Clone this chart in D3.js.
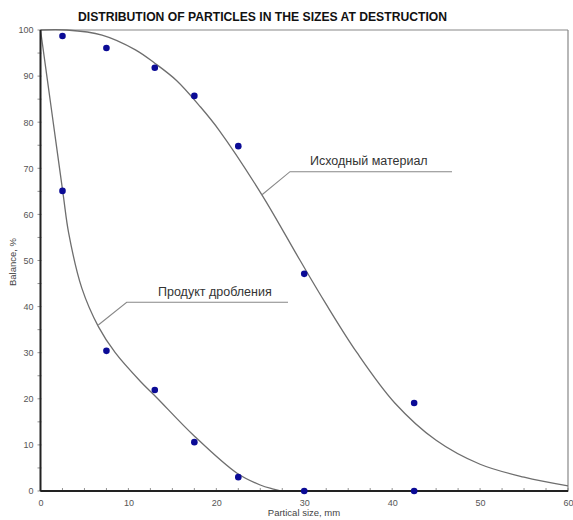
<!DOCTYPE html>
<html>
<head>
<meta charset="utf-8">
<script src="https://cdn.jsdelivr.net/npm/d3@7"></script>
<style>
  html, body { margin: 0; padding: 0; background: #ffffff; }
  svg { display: block; font-family: "Liberation Sans", Arial, sans-serif; }
</style>
</head>
<body>
<svg id="chart" width="573" height="520"></svg>
<script>
// Measured sieve points: particle size (mm) and remaining balance (%)
const sizes = [2.5, 7.5, 13, 17.5, 22.5, 30, 42.5];
const sourceBalance = [98.7, 96.1, 91.8, 85.7, 74.8, 47.1, 19.1];
const crushedBalance = [65.1, 30.4, 21.9, 10.6, 3.0, 0, 0];

// Smoothed trend lines for both materials
const sourceCurveX = [0, 3, 7, 10.8, 13, 15.5, 18.2, 20.3, 25.2, 29.5, 32.4, 36, 40.3, 45, 50, 55, 60];
const sourceCurveY = [100, 100, 98.9, 95.7, 92.8, 89, 83.3, 78.3, 64.2, 50.1, 40.8, 30, 19.1, 11, 5.8, 3, 1.1];
const crushedCurveX = [0, 1.3, 2.6, 3.2, 4.7, 6.6, 8.5, 11.4, 13.2, 17.4, 22.4, 25, 26.5, 27.3];
const crushedCurveY = [100, 82, 64, 56, 44, 35.6, 30, 23.7, 20.3, 12.1, 3.8, 1.3, 0.4, 0];

// Axis ticks
const xTickLabels = [0, 10, 20, 30, 40, 50, 60];
const yTickLabels = [0, 10, 20, 30, 40, 50, 60, 70, 80, 90, 100];

const titleText = "DISTRIBUTION OF PARTICLES IN THE SIZES AT DESTRUCTION";
const xTitle = "Partical size, mm";
const yTitle = "Balance, %";
const sourceName = "Исходный материал";
const crushedName = "Продукт дробления";

const svg = d3.select("#chart");
const plotLeft = 40.5, plotRight = 568, plotTop = 30, plotBottom = 491;

const x = d3.scaleLinear().domain([0, 60]).range([plotLeft, plotRight]);
const y = d3.scaleLinear().domain([0, 100]).range([plotBottom, plotTop]);

// Title
svg.append("text")
  .attr("x", 262.5).attr("y", 21)
  .attr("text-anchor", "middle")
  .attr("font-weight", "bold")
  .attr("font-size", 12)
  .attr("textLength", 369)
  .attr("lengthAdjust", "spacingAndGlyphs")
  .attr("fill", "#111")
  .text(titleText);

// Frame: light top/right edges
svg.append("line").attr("x1", plotLeft).attr("x2", plotRight).attr("y1", plotTop).attr("y2", plotTop)
  .attr("stroke", "#888").attr("stroke-width", 1.2);
svg.append("line").attr("x1", plotRight).attr("x2", plotRight).attr("y1", plotTop).attr("y2", plotBottom)
  .attr("stroke", "#888").attr("stroke-width", 1.2);

// Minor ticks
const xMinor = d3.range(0, 60.01, 2.5);
const yMinor = d3.range(0, 100.01, 5);

const xAxis = d3.axisBottom(x).tickValues(xTickLabels).tickSize(0).tickPadding(9)
  .tickFormat(d3.format("d"));
const yAxis = d3.axisLeft(y).tickValues(yTickLabels).tickSize(0).tickPadding(7)
  .tickFormat(d3.format("d"));

const gx = svg.append("g").attr("transform", `translate(0,${plotBottom})`).call(xAxis);
const gy = svg.append("g").attr("transform", `translate(${plotLeft},0)`).call(yAxis);
[gx, gy].forEach(g => {
  g.select(".domain").remove();
  g.selectAll("text").attr("fill", "#555").attr("font-size", 9)
    .attr("font-family", "Liberation Sans, Arial, sans-serif");
});

svg.append("g").selectAll("line").data(xMinor).join("line")
  .attr("x1", d => x(d)).attr("x2", d => x(d))
  .attr("y1", plotBottom - 3).attr("y2", plotBottom + 1)
  .attr("stroke", "#777").attr("stroke-width", 0.8);
svg.append("g").selectAll("line").data(yMinor).join("line")
  .attr("x1", plotLeft - 3).attr("x2", plotLeft + 1)
  .attr("y1", d => y(d)).attr("y2", d => y(d))
  .attr("stroke", "#777").attr("stroke-width", 0.8);

// Axis titles
svg.append("text")
  .attr("x", 304).attr("y", 516)
  .attr("text-anchor", "middle")
  .attr("font-size", 9.5).attr("fill", "#444")
  .text(xTitle);
svg.append("text")
  .attr("transform", "translate(16,262) rotate(-90)")
  .attr("text-anchor", "middle")
  .attr("font-size", 9.5).attr("fill", "#444")
  .text(yTitle);

// Trend curves
const line = d3.line().x(d => x(d[0])).y(d => y(d[1])).curve(d3.curveCatmullRom.alpha(0.5));
svg.append("path")
  .datum(sourceCurveX.map((v, i) => [v, sourceCurveY[i]]))
  .attr("d", line).attr("fill", "none")
  .attr("stroke", "#6e6e6e").attr("stroke-width", 1.3);
svg.append("path")
  .datum(crushedCurveX.map((v, i) => [v, crushedCurveY[i]]))
  .attr("d", line).attr("fill", "none")
  .attr("stroke", "#6e6e6e").attr("stroke-width", 1.3);

// Main axes (dark, heavy)
svg.append("line").attr("x1", plotLeft).attr("x2", plotRight).attr("y1", plotBottom).attr("y2", plotBottom)
  .attr("stroke", "#222").attr("stroke-width", 2);
svg.append("line").attr("x1", plotLeft).attr("x2", plotLeft).attr("y1", plotTop).attr("y2", plotBottom)
  .attr("stroke", "#222").attr("stroke-width", 2);

// Data points
const dotColor = "#0b0b96";
svg.append("g").selectAll("circle").data(sizes.map((s, i) => [s, sourceBalance[i]])).join("circle")
  .attr("cx", d => x(d[0])).attr("cy", d => y(d[1])).attr("r", 3.3).attr("fill", dotColor);
svg.append("g").selectAll("circle").data(sizes.map((s, i) => [s, crushedBalance[i]])).join("circle")
  .attr("cx", d => x(d[0])).attr("cy", d => y(d[1])).attr("r", 3.3).attr("fill", dotColor);

// Curve captions with leader lines
function caption(pts, text, tx, ty) {
  svg.append("polyline")
    .attr("points", pts.map(p => p.join(",")).join(" "))
    .attr("fill", "none").attr("stroke", "#888").attr("stroke-width", 1.1);
  svg.append("text").attr("x", tx).attr("y", ty)
    .attr("font-size", 12.5).attr("fill", "#333").text(text);
}
caption([[261.7, 195], [290, 171.7], [452, 171.7]], sourceName, 310, 165);
caption([[98.3, 325], [126.7, 302.3], [288, 302.3]], crushedName, 158, 296);
</script>
</body>
</html>
